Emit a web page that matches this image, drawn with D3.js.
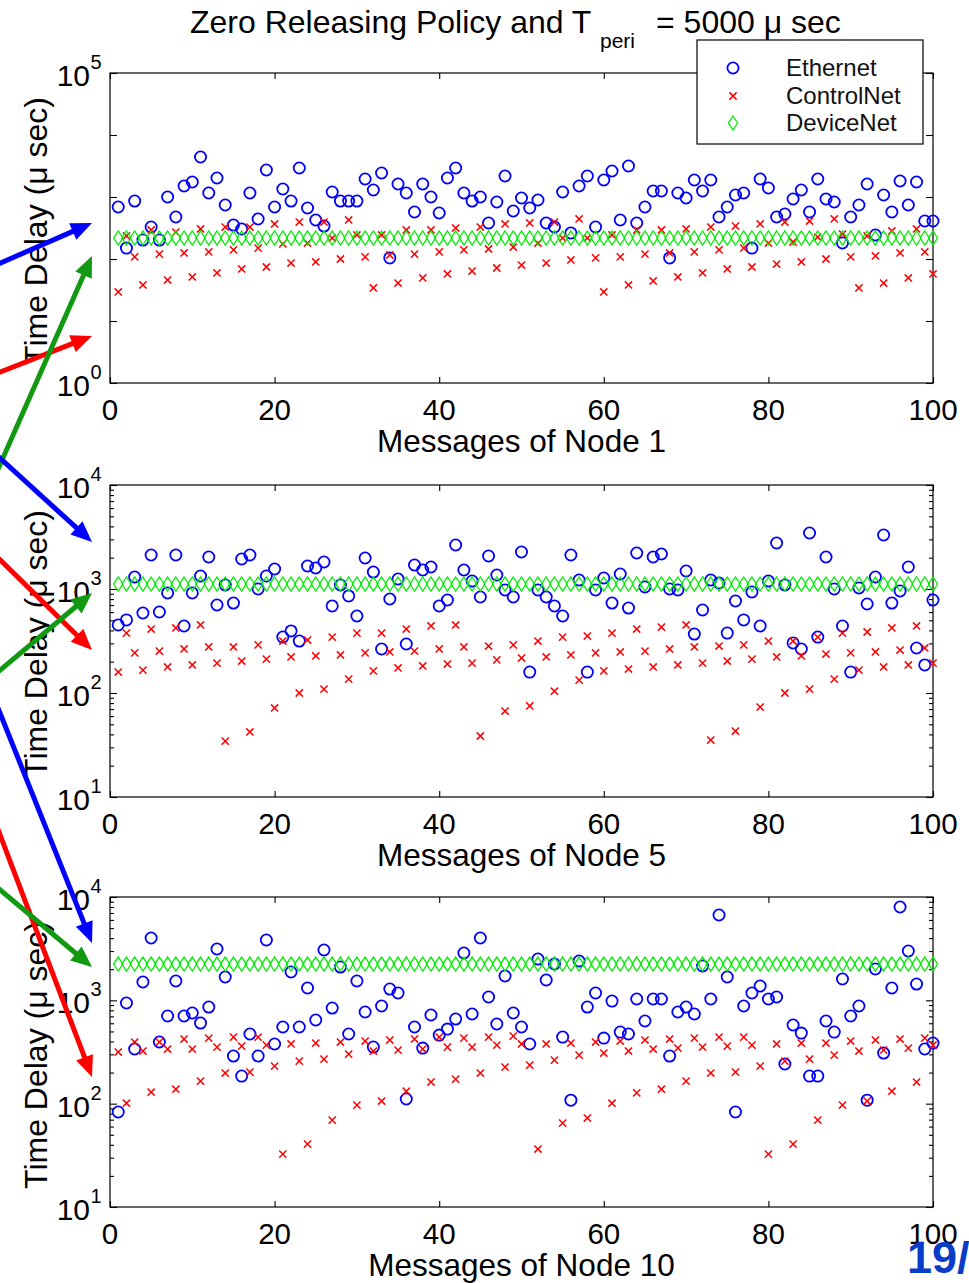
<!DOCTYPE html>
<html><head><meta charset="utf-8">
<script src="https://cdn.jsdelivr.net/npm/d3@7/dist/d3.min.js"></script>
<style>
body{margin:0;background:#fff;}
svg{display:block;font-family:"Liberation Sans",Arial,Helvetica,sans-serif;}
</style>
</head><body>
<svg id="c" width="969" height="1283"></svg>
<script>
// ---------------- data ----------------
const messages = [1,2,3,4,5,6,7,8,9,10,11,12,13,14,15,16,17,18,19,20,21,22,23,24,25,26,27,28,29,30,31,32,33,34,35,36,37,38,39,40,41,42,43,44,45,46,47,48,49,50,51,52,53,54,55,56,57,58,59,60,61,62,63,64,65,66,67,68,69,70,71,72,73,74,75,76,77,78,79,80,81,82,83,84,85,86,87,88,89,90,91,92,93,94,95,96,97,98,99,100];
const seriesNames = ["Ethernet","ControlNet","DeviceNet"];
const xTicks = [0,20,40,60,80,100];

const ethernet1 = [690,150,861,202,328,202,1000,476,1503,1746, 4416,1161,2024,743,353,305,1161,442,2724,690, 1346,861,2936,665,426,340,1205,861,861,861, 1950,1297,2439,104,1622,1161,573,1622,1000,552, 2024,2936,1161,861,1000,381,830,2183,594,964, 665,895,381,328,1205,263,1503,2183,328,1880, 2626,426,3162,381,690,1250,1250,104,1161,964, 1880,1250,1880,476,690,1077,1161,150,1950,1396, 476,532,929,1297,573,1950,929,830,181,476, 743,1622,244,1077,573,1811,743,1746,410,410];
const controlNet1 = [29.4,235,108,38.1,294,120,45.8,272,125,51.3, 305,130,59.5,328,140,69,328,150,74.3,367, 175,86.1,395,181,89.5,395,218,100,426,244, 108,34.1,244,116,41,294,120,49.4,294,130, 57.3,316,140,64,328,145,71.6,367,156,80, 381,181,86.1,395,218,96.4,442,218,104,29.4, 244,108,38.1,294,120,44.2,294,125,51.3,305, 130,59.5,328,140,69,340,150,74.3,367,181, 83,395,188,89.5,410,226,100,442,253,108, 34.1,235,112,41,283,125,49.4,305,130,57.3];
const deviceNet1 = [218,218,218,218,218,218,218,218,218,218, 218,218,218,218,218,218,218,218,218,218, 218,218,218,218,218,218,218,218,218,218, 218,218,218,218,218,218,218,218,218,218, 218,218,218,218,218,218,218,218,218,218, 218,218,218,218,218,218,218,218,218,218, 218,218,218,218,218,218,218,218,218,218, 218,218,218,218,218,218,218,218,218,218, 218,218,218,218,218,218,218,218,218,218, 218,218,218,218,218,218,218,218,218,218];

const ethernet5 = [451,504,1304,588,2123,601,916,2123,441,916, 1334,2031,702,1092,733,1942,2123,1000,1334,1557, 345,395,316,1664,1591,1818,687,1092,857,550, 1987,1456,265,801,1248,296,1701,1523,1628,687, 784,2650,1523,1193,838,2077,1364,978,838,2268, 159,978,838,687,550,2123,1221,159,978,1276, 733,1394,656,2219,1045,2031,2171,1000,978,1489, 369,628,1221,1142,377,767,504,936,441,1193, 2770,1092,303,265,3455,345,2031,1000,441,159, 1022,717,1304,3306,733,957,1628,271,186,784];
const controlNet5 = [159,377,243,166,412,253,178,422,265,186, 451,277,194,34.5,277,203,42.2,290,212,71.8, 316,222,100,323,227,109,345,232,136,377, 243,163,377,248,174,412,253,182,441,265, 190,451,277,194,38.6,283,208,67.1,290,217, 75,316,222,104,345,232,133,353,243,163, 377,248,170,412,253,178,431,265,186,451, 277,194,35.3,283,203,43.1,290,212,73.3,316, 222,100,316,227,109,345,237,136,377,243, 166,386,248,178,422,259,186,441,271,194];
const deviceNet5 = [1117,1117,1117,1117,1117,1117,1117,1117,1117,1117, 1117,1117,1117,1117,1117,1117,1117,1117,1117,1117, 1117,1117,1117,1117,1117,1117,1117,1117,1117,1117, 1117,1117,1117,1117,1117,1117,1117,1117,1117,1117, 1117,1117,1117,1117,1117,1117,1117,1117,1117,1117, 1117,1117,1117,1117,1117,1117,1117,1117,1117,1117, 1117,1117,1117,1117,1117,1117,1117,1117,1117,1117, 1117,1117,1117,1117,1117,1117,1117,1117,1117,1117, 1117,1117,1117,1117,1117,1117,1117,1117,1117,1117, 1117,1117,1117,1117,1117,1117,1117,1117,1117,1117];

const ethernet10 = [83,942,338,1504,4010,395,705,1538,705,754, 603,861,3140,1682,289,185,472,289,3835,378, 552,1879,552,1316,645,3069,842,2100,472,1538, 771,353,881,1286,1177,111,552,345,721,461, 527,659,2870,737,4010,1077,590,1719,754,552, 378,2510,1573,2246,441,108,2401,861,1177,431, 984,493,472,1030,631,1030,1030,289,771,861, 737,2148,1030,6695,1682,83,881,1177,1376,1030, 1077,242,577,482,185,185,631,493,1608,705, 881,108,2009,309,1316,8000,3002,1438,338,386];
const controlNet10 = [316,101,395,323,129,395,338,138,422,338, 165,431,353,198,441,361,202,441,369,231, 32.5,378,258,40.6,386,270,69.3,395,302,96.9, 404,323,106,413,330,132,422,338,162,441, 353,173,431,353,198,441,369,226,451,378, 236,36.4,378,264,64.9,386,295,72.6,395,309, 101,404,323,127,413,338,138,422,345,165, 431,353,198,441,361,202,441,369,231,32.5, 378,258,40.6,386,270,69.3,386,295,96.9,404, 323,106,413,330,132,422,345,162,431,369];
const deviceNet10 = [2245,2245,2245,2245,2245,2245,2245,2245,2245,2245, 2245,2245,2245,2245,2245,2245,2245,2245,2245,2245, 2245,2245,2245,2245,2245,2245,2245,2245,2245,2245, 2245,2245,2245,2245,2245,2245,2245,2245,2245,2245, 2245,2245,2245,2245,2245,2245,2245,2245,2245,2245, 2245,2245,2245,2245,2245,2245,2245,2245,2245,2245, 2245,2245,2245,2245,2245,2245,2245,2245,2245,2245, 2245,2245,2245,2245,2245,2245,2245,2245,2245,2245, 2245,2245,2245,2245,2245,2245,2245,2245,2245,2245, 2245,2245,2245,2245,2245,2245,2245,2245,2245,2245];

const xLabels = ["Messages of Node 1","Messages of Node 5","Messages of Node 10"];
const yLabel = "Time Delay (\u03bc sec)";

// ---------------- layout ----------------
const svg = d3.select("#c");
const X0 = 110, X1 = 933;
const x = d3.scaleLinear().domain([0,100]).range([X0,X1]);
const BLUE="#0000ff", RED="#ff0000", GREEN="#00ee00";

const panels = [
  {top:73,  bottom:383,  domain:[1,1e5],  labels:[0,5],     minor:false, eth:ethernet1,  cn:controlNet1,  dn:deviceNet1,  xl:xLabels[0], legend:true},
  {top:485, bottom:797,  domain:[10,1e4], labels:[1,2,3,4], minor:true,  eth:ethernet5,  cn:controlNet5,  dn:deviceNet5,  xl:xLabels[1]},
  {top:897, bottom:1207, domain:[10,1e4], labels:[1,2,3,4], minor:true,  eth:ethernet10, cn:controlNet10, dn:deviceNet10, xl:xLabels[2]}
];

function circleMark(g, cx, cy, color){
  g.append("circle").attr("cx",cx).attr("cy",cy).attr("r",5.6)
   .attr("fill","none").attr("stroke",color).attr("stroke-width",1.8);
}
function crossMark(g, cx, cy, color){
  const s=3.6;
  g.append("path").attr("d",`M${cx-s},${cy-s}L${cx+s},${cy+s}M${cx-s},${cy+s}L${cx+s},${cy-s}`)
   .attr("stroke",color).attr("stroke-width",1.5).attr("fill","none");
}
function diamondMark(g, cx, cy, color){
  const w=4.6,h=7;
  g.append("path").attr("d",`M${cx},${cy-h}L${cx+w},${cy}L${cx},${cy+h}L${cx-w},${cy}Z`)
   .attr("stroke",color).attr("stroke-width",1.3).attr("fill","none");
}

panels.forEach(p=>{
  const y = d3.scaleLog().domain(p.domain).range([p.bottom,p.top]);
  const g = svg.append("g");
  const e0 = Math.round(Math.log10(p.domain[0])), e1 = Math.round(Math.log10(p.domain[1]));
  const majors = d3.range(e0,e1+1).map(e=>Math.pow(10,e));
  const minors = [];
  if(p.minor) for(let e=e0;e<e1;e++) for(let m=2;m<=9;m++) minors.push(m*Math.pow(10,e));

  // frame
  g.append("rect").attr("x",X0).attr("y",p.top).attr("width",X1-X0).attr("height",p.bottom-p.top)
   .attr("fill","#fff").attr("stroke","#000").attr("stroke-width",1.2);

  const addAxis = (axis, tx)=>{
    const a = g.append("g").attr("transform",`translate(${tx},0)`).call(axis);
    a.select(".domain").remove();
    a.selectAll("line").attr("stroke","#000").attr("stroke-width",1.1);
    a.selectAll("text").remove();
  };
  addAxis(d3.axisLeft(y).tickValues(majors).tickFormat("").tickSizeInner(-7).tickSizeOuter(0), X0);
  addAxis(d3.axisRight(y).tickValues(majors).tickFormat("").tickSizeInner(-7).tickSizeOuter(0), X1);
  if(p.minor){
    addAxis(d3.axisLeft(y).tickValues(minors).tickFormat("").tickSizeInner(-4).tickSizeOuter(0), X0);
    addAxis(d3.axisRight(y).tickValues(minors).tickFormat("").tickSizeInner(-4).tickSizeOuter(0), X1);
  }
  const xa = g.append("g").attr("transform",`translate(0,${p.bottom})`)
    .call(d3.axisBottom(x).tickValues(xTicks).tickSizeInner(-6).tickSizeOuter(0).tickFormat(""));
  xa.select(".domain").remove(); xa.selectAll("line").attr("stroke","#000").attr("stroke-width",1.1);
  const xt = g.append("g").attr("transform",`translate(0,${p.top})`)
    .call(d3.axisTop(x).tickValues(xTicks).tickSizeInner(-6).tickSizeOuter(0).tickFormat(""));
  xt.select(".domain").remove(); xt.selectAll("line").attr("stroke","#000").attr("stroke-width",1.1);

  // x tick labels
  g.selectAll(".xtl").data(xTicks).enter().append("text")
    .attr("x",d=>x(d)).attr("y",p.bottom+37).attr("text-anchor","middle")
    .attr("font-size",29.5).attr("fill","#000").text(d=>d);

  // y tick labels 10^e
  p.labels.forEach(e=>{
    const yy = y(Math.pow(10,e));
    g.append("text").attr("x",90).attr("y",yy+13).attr("text-anchor","end")
      .attr("font-size",30).attr("fill","#000").text("10");
    g.append("text").attr("x",90.5).attr("y",yy-4).attr("text-anchor","start")
      .attr("font-size",20).attr("fill","#000").text(e);
  });

  // axis labels
  g.append("text").attr("x",(X0+X1)/2).attr("y",p.bottom+69).attr("text-anchor","middle")
    .attr("font-size",31.5).attr("fill","#000").text(p.xl);
  const cy=(p.top+p.bottom)/2 + 3;
  g.append("text").attr("transform",`translate(47,${cy}) rotate(-90)`).attr("text-anchor","middle")
    .attr("font-size",32).attr("fill","#000").text(yLabel);

  // data marks
  const m = g.append("g");
  messages.forEach((k,i)=>circleMark(m, x(k), y(p.eth[i]), BLUE));
  messages.forEach((k,i)=>crossMark(m, x(k), y(p.cn[i]), RED));
  messages.forEach((k,i)=>diamondMark(m, x(k), y(p.dn[i]), GREEN));

  if(p.legend){
    const lg = svg.append("g");
    lg.append("rect").attr("x",697).attr("y",40).attr("width",226).attr("height",104)
      .attr("fill","#fff").attr("stroke","#000").attr("stroke-width",1.2);
    const rows=[68,96,123];
    circleMark(lg,733,rows[0],BLUE); crossMark(lg,733,rows[1],RED); diamondMark(lg,733,rows[2],GREEN);
    seriesNames.forEach((s,i)=>lg.append("text").attr("x",786).attr("y",rows[i]+8)
      .attr("font-size",24).attr("fill","#111").text(s));
  }
});

// title
const t = svg.append("g").attr("fill","#000");
t.append("text").attr("x",190).attr("y",33).attr("font-size",32).text("Zero Releasing Policy and T");
t.append("text").attr("x",600).attr("y",48).attr("font-size",21).text("peri");
t.append("text").attr("x",656).attr("y",33).attr("font-size",32).text("= 5000 \u03bc sec");

// annotation arrows (slide overlay)
const arrows = [
  {x1:-20,y1:272,x2:92,y2:223,c:"#0000ff"},
  {x1:-20,y1:380,x2:92,y2:336,c:"#ff0000"},
  {x1:-20,y1:510,x2:92,y2:256,c:"#119911"},
  {x1:-20,y1:440,x2:92,y2:542,c:"#0000ff"},
  {x1:-20,y1:540,x2:92,y2:650,c:"#ff0000"},
  {x1:-20,y1:687,x2:92,y2:593,c:"#119911"},
  {x1:-20,y1:663,x2:92,y2:943,c:"#0000ff"},
  {x1:-20,y1:782,x2:92,y2:1077,c:"#ff0000"},
  {x1:-20,y1:873,x2:92,y2:967,c:"#119911"}
];
const ag = svg.append("g");
arrows.forEach(a=>{
  const dx=a.x2-a.x1, dy=a.y2-a.y1, L=Math.hypot(dx,dy), ux=dx/L, uy=dy/L;
  const hl=21, hw=9;
  const bx=a.x2-ux*hl, by=a.y2-uy*hl;
  ag.append("line").attr("x1",a.x1).attr("y1",a.y1).attr("x2",bx+ux*2).attr("y2",by+uy*2)
    .attr("stroke",a.c).attr("stroke-width",5);
  ag.append("path").attr("d",`M${a.x2},${a.y2}L${bx-uy*hw},${by+ux*hw}L${bx+uy*hw},${by-ux*hw}Z`)
    .attr("fill",a.c);
});

// slide page number (cut at the right edge, as on the slide)
svg.append("text").attr("x",907).attr("y",1273).attr("font-size",45).attr("font-weight","bold")
  .attr("fill","#0a3cc8").text("19/");
</script>
</body></html>
